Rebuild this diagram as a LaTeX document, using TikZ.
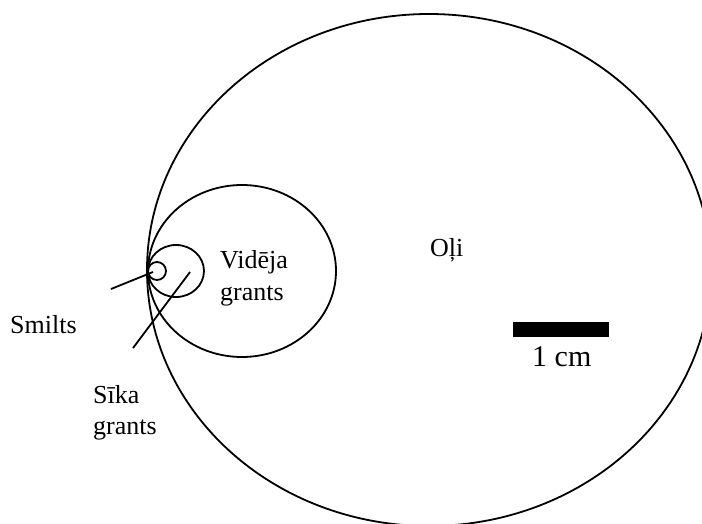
\documentclass[tikz,border=0pt]{standalone}
\usepackage{fontspec}
\setmainfont{Liberation Serif}
\begin{document}
\begin{tikzpicture}[x=1pt,y=-1pt,
  outline/.style={draw=black,line width=1.8pt},
  lbl/.style={anchor=base west,inner sep=0pt,font=\fontsize{26}{31}\selectfont},
  scalelbl/.style={anchor=base west,inner sep=0pt,font=\fontsize{30}{36}\selectfont},
  pointer/.style={draw=black,line width=1.8pt}]
\useasboundingbox (0,0) rectangle (702,524);
\begin{scope}
\clip (0,0) rectangle (702,524);
% big ellipse (Oli)
\draw[outline] (429,270) ellipse [x radius=282, y radius=256];
% medium ellipse (Videja grants)
\draw[outline] (242,271) ellipse [x radius=94, y radius=86];
% small ellipse (Sika grants)
\draw[outline] (176,271) ellipse [x radius=28, y radius=26];
% tiny circle (Smilts)
\draw[outline] (157,271) circle [radius=9];
\end{scope}
% scale bar
\fill[black] (513,322) rectangle (609,337);
% labels
\node[lbl] (oli) at (430,256) {Oļi};
\node[lbl] (vid1) at (220,268) {Vidēja};
\node[lbl] (vid2) at (220,300) {grants};
\node[lbl] (smilts) at (10,333) {Smilts};
\node[lbl] (sika1) at (93,403) {Sīka};
\node[lbl] (sika2) at (93,434) {grants};
\node[scalelbl] (cm) at (532,366) {1 cm};
% pointers
\coordinate (sa) at (111,289);
\coordinate (sb) at (153,272);
\coordinate (ka) at (133,348);
\coordinate (kb) at (190,272);
\draw[pointer] (sa) -- (sb);
\draw[pointer] (ka) -- (kb);
\end{tikzpicture}
\end{document}
